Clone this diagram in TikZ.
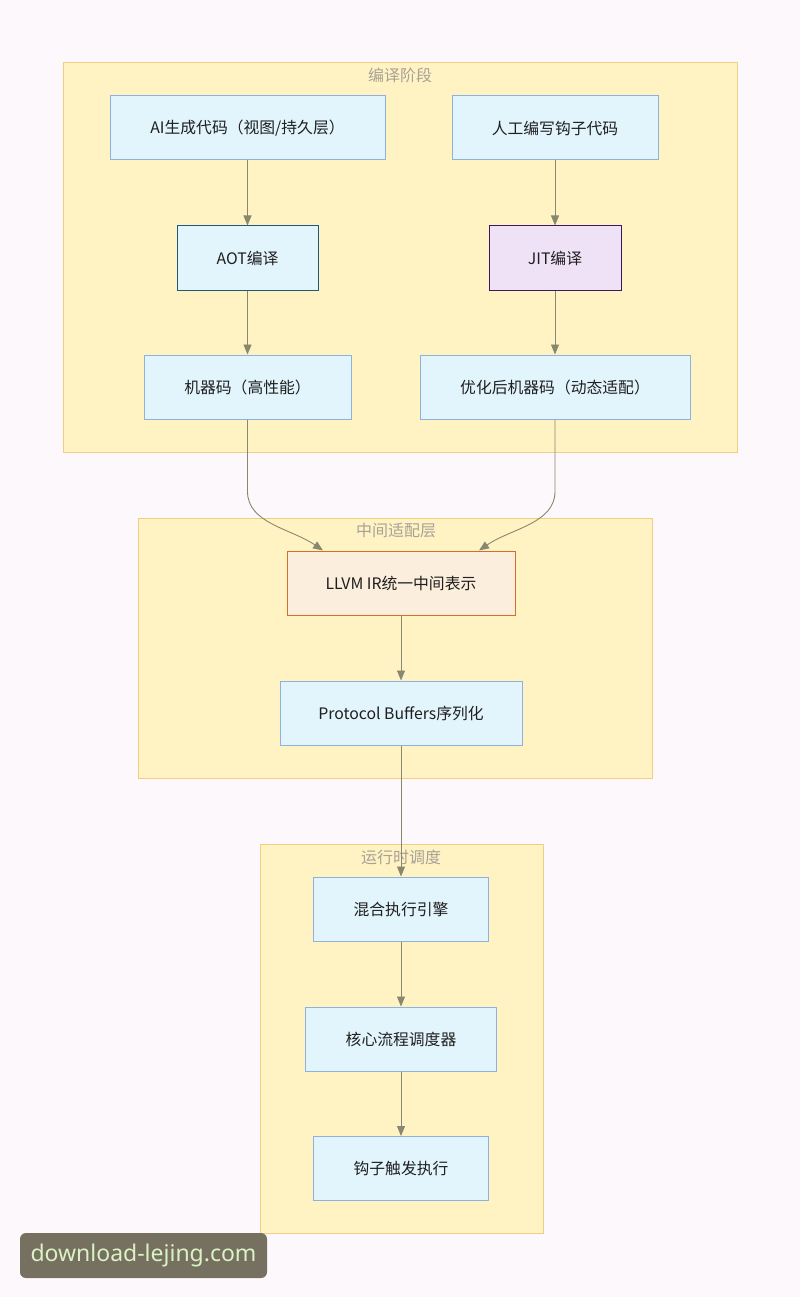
\documentclass[tikz,border=0pt]{standalone}
\usepackage{fontspec}
\setmainfont{Noto Sans CJK SC}
\newfontfamily\wmfont{Noto Sans}
\usetikzlibrary{arrows.meta,calc}
\definecolor{bgc}{HTML}{FCF8FC}
\definecolor{clfill}{HTML}{FFF3C4}
\definecolor{cldraw}{HTML}{F0D080}
\definecolor{nfill}{HTML}{E2F4FC}
\definecolor{ndraw}{HTML}{8EB2DE}
\definecolor{edgec}{HTML}{888870}
\definecolor{titlec}{HTML}{A8A296}
\definecolor{aotdraw}{HTML}{1E5A78}
\definecolor{jitfill}{HTML}{F0E2F6}
\definecolor{jitdraw}{HTML}{3A1A5E}
\definecolor{llvmfill}{HTML}{FCEEDC}
\definecolor{llvmdraw}{HTML}{D0702A}
\definecolor{wmfill}{HTML}{75705F}
\definecolor{wmtext}{HTML}{DAF2C4}
\begin{document}
\begin{tikzpicture}[x=1pt,y=-1pt,
  cluster/.style={fill=clfill,draw=cldraw,line width=1pt},
  cltitle/.style={text=titlec,font=\fontsize{16}{18}\selectfont,inner sep=0pt},
  proc/.style={draw=ndraw,fill=nfill,line width=1pt,minimum height=64pt,inner sep=0pt,font=\fontsize{15.8}{18}\selectfont,text=black!88},
  edge/.style={draw=edgec,line width=0.9pt,-{Triangle[length=10pt,width=8pt,fill=edgec]}}
]
\fill[bgc] (0,0) rectangle (800,1297);
\useasboundingbox (0,0) rectangle (800,1297);
% clusters
\draw[cluster] (63,63) rectangle (737,452);
\node[cltitle] (t1) at (400,75) {编译阶段};
\draw[cluster] (138,518) rectangle (652,778);
\node[cltitle] (t2) at (396,530) {中间适配层};
\draw[cluster] (260,844) rectangle (543,1233);
\node[cltitle] (t3) at (401,857) {运行时调度};
% nodes
\node[proc,minimum width=275pt] (ai) at (247.5,128) {AI生成代码（视图/持久层）};
\node[proc,minimum width=206pt] (hk) at (555,128) {人工编写钩子代码};
\node[proc,minimum width=141pt,draw=aotdraw] (aot) at (247.5,258) {AOT编译};
\node[proc,minimum width=132pt,fill=jitfill,draw=jitdraw] (jit) at (555,258) {JIT编译};
\node[proc,minimum width=207pt] (mc) at (247.5,387) {机器码（高性能）};
\node[proc,minimum width=270pt] (omc) at (555,387) {优化后机器码（动态适配）};
\node[proc,minimum width=228pt,fill=llvmfill,draw=llvmdraw] (llvm) at (401,583) {LLVM IR统一中间表示};
\node[proc,minimum width=242pt] (pb) at (401,713) {Protocol Buffers序列化};
\node[proc,minimum width=175pt] (mix) at (401,909) {混合执行引擎};
\node[proc,minimum width=191pt] (core) at (401,1039) {核心流程调度器};
\node[proc,minimum width=175pt] (hook) at (401,1168.5) {钩子触发执行};
% edges
\draw[edge] (ai) -- (aot);
\draw[edge] (hk) -- (jit);
\draw[edge] (aot) -- (mc);
\draw[edge] (jit) -- (omc);
\draw[edge] (mc.south) -- ++(0,72) .. controls +(0,32) and +(-32,-22) .. ([xshift=-78pt]llvm.north);
\draw[edge] (omc.south) -- ++(0,72) .. controls +(0,32) and +(32,-22) .. ([xshift=78pt]llvm.north);
\draw[edge] (llvm) -- (pb);
\draw[edge] (pb) -- (mix);
\draw[edge] (mix) -- (core);
\draw[edge] (core) -- (hook);
% watermark
\node[fill=wmfill,rounded corners=6pt,minimum width=247pt,minimum height=45pt,inner sep=0pt,text=wmtext,font=\wmfont\fontsize{23}{26}\selectfont] (wm) at (143.5,1255.5) {\raisebox{-1.5pt}{download-lejing.com}};
\end{tikzpicture}
\end{document}
